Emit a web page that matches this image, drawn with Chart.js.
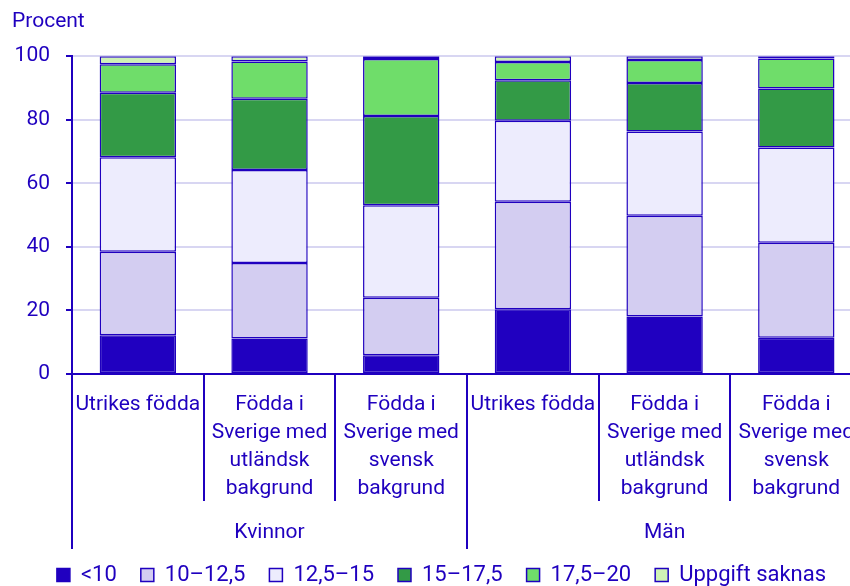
<!DOCTYPE html>
<html>
<head>
<meta charset="utf-8">
<script src="https://cdn.jsdelivr.net/npm/chart.js@4.4.1/dist/chart.umd.min.js"></script>
<style>
  html, body { margin: 0; padding: 0; overflow: hidden; background: #fff; }
  #wrap { width: 871px; height: 596px; }
</style>
</head>
<body>
<div id="wrap"><canvas id="myChart"></canvas></div>
<script>
const categories = [
    'Utrikes födda',
    ['Födda i', 'Sverige med', 'utländsk', 'bakgrund'],
    ['Födda i', 'Sverige med', 'svensk', 'bakgrund'],
    'Utrikes födda',
    ['Födda i', 'Sverige med', 'utländsk', 'bakgrund'],
    ['Födda i', 'Sverige med', 'svensk', 'bakgrund']
];
const groups = ['Kvinnor', 'Män'];

const under10 = [12.2, 11.2, 5.9, 20.4, 18.1, 11.4];
const from10 = [26.3, 23.7, 18.1, 33.8, 31.7, 29.9];
const from125 = [29.7, 29.3, 29.1, 25.5, 26.5, 30.0];
const from15 = [20.3, 22.4, 28.1, 12.7, 15.3, 18.5];
const from175 = [9.0, 11.7, 17.9, 5.8, 7.2, 9.5];
const missing = [2.5, 1.7, 0.9, 1.8, 1.2, 0.7];

const blue = '#1f00bf';

// separators and group labels under the x axis
const groupPlugin = {
    id: 'groupLabels',
    afterDraw(chart) {
        const ctx = chart.ctx;
        const x = chart.scales.x;
        const bottom = chart.chartArea.bottom;
        const n = categories.length;
        const step = x.getPixelForValue(1) - x.getPixelForValue(0);
        const edges = [];
        for (let i = 0; i <= n; i++) {
            edges.push(x.getPixelForValue(0) - step / 2 + i * step);
        }
        ctx.save();
        ctx.strokeStyle = blue;
        ctx.lineWidth = 2;
        edges.forEach((e, i) => {
            const long = i % 3 === 0;
            ctx.beginPath();
            ctx.moveTo(Math.round(e), bottom);
            ctx.lineTo(Math.round(e), long ? bottom + 175 : bottom + 127);
            ctx.stroke();
        });
        ctx.fillStyle = blue;
        ctx.font = '21px Roboto';
        ctx.textAlign = 'center';
        ctx.textBaseline = 'middle';
        ctx.fillText(groups[0], x.getPixelForValue(1), bottom + 159);
        ctx.fillText(groups[1], x.getPixelForValue(4), bottom + 159);
        ctx.restore();
    }
};

new Chart(document.getElementById('myChart'), {
    type: 'bar',
    data: {
        labels: categories,
        datasets: [
            { label: '<10', data: under10, backgroundColor: '#2000c0' },
            { label: '10–12,5', data: from10, backgroundColor: '#d3cdf1' },
            { label: '12,5–15', data: from125, backgroundColor: '#edecfd' },
            { label: '15–17,5', data: from15, backgroundColor: '#339a46' },
            { label: '17,5–20', data: from175, backgroundColor: '#6fdd6a' },
            { label: 'Uppgift saknas', data: missing, backgroundColor: '#cff2b6' }
        ].map(d => Object.assign(d, {
            borderColor: blue,
            borderWidth: 1.5,
            borderSkipped: false,
            categoryPercentage: 1,
            barPercentage: 0.58
        }))
    },
    options: {
        responsive: true,
        maintainAspectRatio: false,
        animation: false,
        layout: { padding: { left: 12, right: 0, top: 0, bottom: 0 } },
        scales: {
            x: {
                stacked: true,
                grid: { display: false, drawTicks: false },
                border: { display: true, color: blue, width: 2 },
                ticks: {
                    color: blue,
                    font: { family: 'Roboto', size: 21, lineHeight: 1.333 },
                    padding: 17,
                    maxRotation: 0,
                    autoSkip: false
                },
                afterFit(scale) { scale.height = 166; }
            },
            y: {
                stacked: true,
                min: 0,
                max: 100,
                ticks: {
                    stepSize: 20,
                    color: blue,
                    font: { family: 'Roboto', size: 21 },
                    padding: 16
                },
                grid: { color: '#d8d6f2', lineWidth: 2, tickColor: blue, tickLength: 6 },
                border: { display: true, color: blue, width: 2 },
                afterFit(scale) { scale.width = 60; }
            }
        },
        plugins: {
            title: {
                display: true,
                text: 'Procent',
                align: 'start',
                color: blue,
                font: { family: 'Roboto', size: 21, weight: 'normal' },
                padding: { top: 9, bottom: 22 }
            },
            legend: {
                display: true,
                position: 'bottom',
                labels: {
                    color: blue,
                    font: { family: 'Roboto', size: 22 },
                    boxWidth: 13,
                    boxHeight: 13,
                    padding: 24
                }
            },
            tooltip: { enabled: false }
        }
    },
    plugins: [groupPlugin]
});
</script>
</body>
</html>
